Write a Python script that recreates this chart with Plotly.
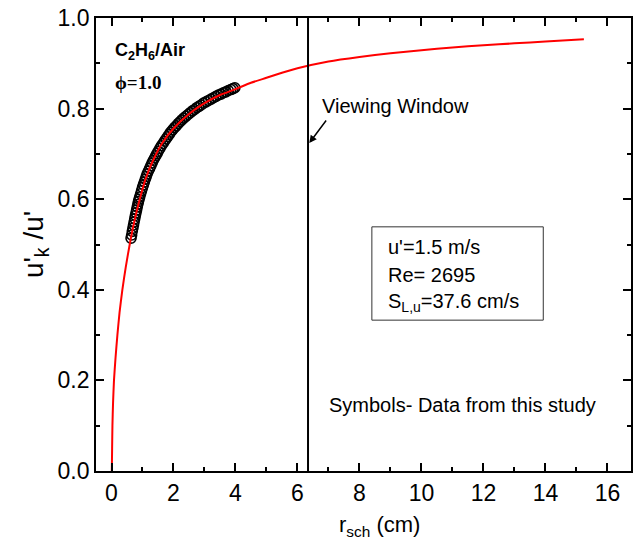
import plotly.graph_objects as go

# Fitted model curve u'_k/u' versus schlieren radius (cm)
model_r = [0.01, 0.02, 0.03, 0.05, 0.08, 0.13, 0.19, 0.26, 0.35, 0.46, 0.60, 0.75,
           0.90, 1.10, 1.35, 1.65, 2.0, 2.5, 3.0, 3.5, 4.0, 4.5, 5.0, 5.5, 6.0,
           7.0, 8.0, 9.0, 10.0, 11.0, 12.0, 13.0, 14.0, 15.24]
model_u = [0.0, 0.05, 0.10, 0.15, 0.20, 0.25, 0.30, 0.35, 0.40, 0.45, 0.505, 0.555,
           0.597, 0.645, 0.687, 0.725, 0.756, 0.788, 0.812, 0.830, 0.843, 0.857, 0.868,
           0.879, 0.889, 0.904, 0.914, 0.922, 0.929, 0.935, 0.940, 0.944, 0.948, 0.953]

# Measured points (this study)
data_r = [0.63, 0.65, 0.67, 0.69, 0.71, 0.73, 0.75, 0.77, 0.79, 0.81, 0.83, 0.85,
          0.87, 0.89, 0.91, 0.94, 0.97, 1.00, 1.03, 1.06, 1.09, 1.12, 1.15, 1.19,
          1.23, 1.27, 1.31, 1.35, 1.39, 1.43, 1.47, 1.51, 1.56, 1.61, 1.66, 1.71,
          1.76, 1.81, 1.86, 1.91, 1.97, 2.03, 2.09, 2.15, 2.21, 2.27, 2.33, 2.40,
          2.47, 2.54, 2.61, 2.68, 2.75, 2.82, 2.89, 2.97, 3.05, 3.13, 3.21, 3.29,
          3.37, 3.45, 3.53, 3.61, 3.69, 3.77, 3.85, 3.92, 3.98]
data_u = [0.514, 0.521, 0.529, 0.536, 0.543, 0.550, 0.557, 0.564, 0.570, 0.576, 0.583,
          0.589, 0.595, 0.600, 0.605, 0.612, 0.619, 0.626, 0.632, 0.638, 0.644, 0.650,
          0.656, 0.662, 0.668, 0.674, 0.680, 0.686, 0.691, 0.696, 0.701, 0.706, 0.712,
          0.718, 0.723, 0.728, 0.733, 0.738, 0.743, 0.748, 0.753, 0.758, 0.762, 0.767,
          0.771, 0.775, 0.779, 0.783, 0.787, 0.791, 0.795, 0.798, 0.802, 0.805, 0.808,
          0.812, 0.815, 0.818, 0.821, 0.824, 0.827, 0.830, 0.832, 0.835, 0.837, 0.840,
          0.842, 0.844, 0.846]

window_r = 6.34          # edge of the viewing window (cm)
x_ticks = [0, 2, 4, 6, 8, 10, 12, 14, 16]
y_ticks = [0.0, 0.2, 0.4, 0.6, 0.8, 1.0]

FONT = "Liberation Sans, Arial, sans-serif"

fig = go.Figure()
fig.add_trace(go.Scatter(
    x=data_r, y=data_u, mode="markers",
    marker=dict(symbol="circle-open", size=10, color="black", line=dict(width=1.6)),
    showlegend=False, hoverinfo="skip"))
fig.add_trace(go.Scatter(
    x=model_r, y=model_u, mode="lines",
    line=dict(color="#ff0000", width=2, shape="spline", smoothing=0.6),
    showlegend=False, hoverinfo="skip"))

# viewing window line
fig.add_shape(type="line", xref="x", yref="y", x0=window_r, x1=window_r, y0=0, y1=1,
              line=dict(color="black", width=2))
# parameter box
fig.add_shape(type="rect", xref="x", yref="y", x0=8.40, x1=13.93, y0=0.333, y1=0.539,
              line=dict(color="#333333", width=1), fillcolor="rgba(0,0,0,0)")

txt = dict(family=FONT, size=20, color="black")
ann = [
    dict(x=8.85, y=0.494, text="u'=1.5 m/s", xanchor="left", yanchor="middle", font=txt),
    dict(x=8.85, y=0.433, text="Re= 2695", xanchor="left", yanchor="middle", font=txt),
    dict(x=8.85, y=0.373, text="S<sub>L,u</sub>=37.6 cm/s", xanchor="left", yanchor="middle", font=txt),
    dict(x=6.72, y=0.806, text="Viewing Window", xanchor="left", yanchor="middle", font=txt),
    dict(x=6.95, y=0.146, text="Symbols- Data from this study", xanchor="left", yanchor="middle", font=txt),
    dict(x=0.045, y=0.925, text="<b>C<sub>2</sub>H<sub>6</sub>/Air</b>", xanchor="left",
         yanchor="middle", font=dict(family=FONT, size=18, color="black")),
    dict(x=0.045, y=0.857, text="<b>ϕ=1.0</b>", xanchor="left", yanchor="middle",
         font=dict(family="Liberation Serif, Times New Roman, serif", size=19, color="black")),
    dict(x=6.38, y=0.724, ax=18, ay=-24, text="", showarrow=True, arrowhead=2,
         arrowsize=1, arrowwidth=1.5, arrowcolor="black"),
    # x-axis title
    dict(x=0.451, y=-0.121, xref="paper", yref="paper", text="r<sub>sch</sub> (cm)",
         xanchor="left", yanchor="middle", font=dict(family=FONT, size=22, color="black")),
]
for a in ann:
    a.setdefault("showarrow", False)
    a.setdefault("xref", "x")
    a.setdefault("yref", "y")
    fig.add_annotation(**a)

axis_common = dict(showline=True, linecolor="black", linewidth=1.8, mirror="ticks",
                   ticks="inside", ticklen=8, tickwidth=1.5, tickcolor="black",
                   showgrid=False, zeroline=False)

fig.update_xaxes(range=[-0.5, 16.76], tickvals=x_ticks,
                 tickfont=dict(family=FONT, size=23, color="black"),
                 minor=dict(ticks="inside", ticklen=4, tickwidth=1.5, tickcolor="black",
                            dtick=1, tick0=0, showgrid=False),
                 **axis_common)
fig.update_yaxes(range=[0, 1.0], tickvals=y_ticks, tickformat=".1f",
                 tickfont=dict(family=FONT, size=23, color="black"),
                 minor=dict(ticks="inside", ticklen=4, tickwidth=1.5, tickcolor="black",
                            dtick=0.1, tick0=0, showgrid=False),
                 title=dict(text="u'<sub>k</sub> /u'", font=dict(family=FONT, size=28, color="black"),
                            standoff=6),
                 **axis_common)

fig.update_layout(width=633, height=546, margin=dict(l=96, r=0, t=18, b=75),
                  plot_bgcolor="white", paper_bgcolor="white")

fig.write_html("out.html")
